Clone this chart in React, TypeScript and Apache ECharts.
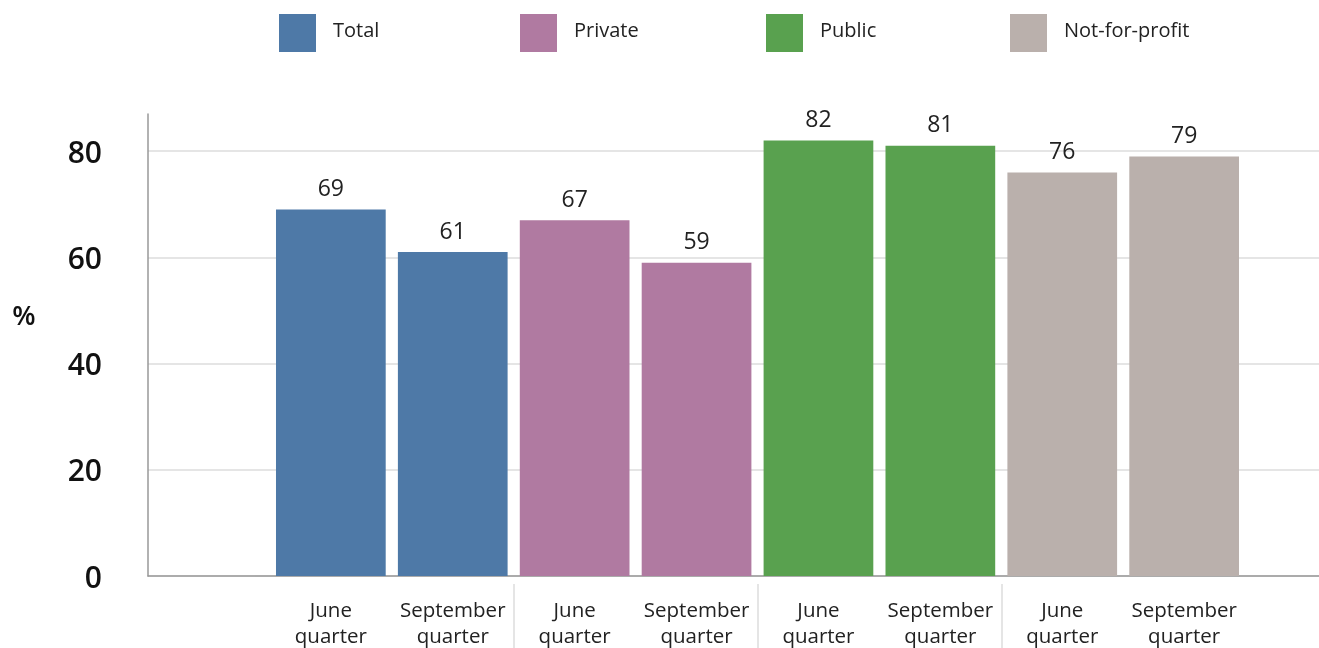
import React, { useEffect, useRef } from "react";
import * as echarts from "echarts";

const categories = [
  "",
  "June\nquarter",
  "September\nquarter",
  "June\nquarter",
  "September\nquarter",
  "June\nquarter",
  "September\nquarter",
  "June\nquarter",
  "September\nquarter",
  "",
];
const seriesNames = ["Total", "Private", "Public", "Not-for-profit"];
const totalValues = [69, 61];
const privateValues = [67, 59];
const publicValues = [82, 81];
const notForProfitValues = [76, 79];
const yTicks = [0, 20, 40, 60, 80];
const yMax = 87;

const colors = ["#4e79a7", "#b07aa1", "#59a14f", "#bab0ac"];
const legendLefts = [279, 520, 766, 1010];
const FONT = "'Open Sans', sans-serif";

function placeValues(values: number[], groupIndex: number) {
  const data: (number | string)[] = categories.map(() => "-");
  data[1 + groupIndex * 2] = values[0];
  data[2 + groupIndex * 2] = values[1];
  return data;
}

export default function App() {
  const ref = useRef<HTMLDivElement>(null);
  useEffect(() => {
    if (!ref.current) return;
    const chart = echarts.init(ref.current, null, { renderer: "svg" });
    const allValues = [totalValues, privateValues, publicValues, notForProfitValues];
    const option: any = {
      animation: false,
      textStyle: { fontFamily: FONT },
      grid: { left: 148, top: 114, width: 1219, height: 463, containLabel: false },
      legend: seriesNames.map((n, i) => ({
        data: [n],
        left: legendLefts[i],
        top: 14,
        padding: 0,
        itemWidth: 37,
        itemHeight: 38,
        icon: "rect",
        selectedMode: false,
        formatter: "{t|{name}}",
        textStyle: {
          fontSize: 20,
          color: "#222",
          fontFamily: FONT,
          rich: {
            t: {
              fontSize: 20,
              color: "#222",
              fontFamily: FONT,
              padding: [0, 0, 7, 12],
            },
          },
        },
      })),
      xAxis: [
        {
          type: "category",
          data: categories,
          boundaryGap: true,
          axisLine: { show: true, lineStyle: { color: "#999", width: 1.5 } },
          axisTick: { show: false },
          axisLabel: {
            interval: 0,
            fontSize: 20.5,
            lineHeight: 26,
            color: "#222",
            margin: 20,
            fontFamily: FONT,
          },
          splitLine: { show: false },
        },
        {
          type: "category",
          data: categories,
          position: "bottom",
          offset: 8,
          boundaryGap: true,
          axisLine: { show: false },
          axisLabel: { show: false },
          axisTick: {
            show: true,
            interval: (i: number) => i === 3 || i === 5 || i === 7,
            length: 70,
            lineStyle: { color: "#ddd", width: 1.5 },
          },
          splitLine: { show: false },
        },
      ],
      yAxis: {
        type: "value",
        min: 0,
        max: yMax,
        interval: 20,
        axisLine: { show: true, lineStyle: { color: "#999", width: 1.5 } },
        axisTick: { show: false },
        axisLabel: {
          formatter: (v: number) => (yTicks.includes(v) ? String(v) : ""),
          showMaxLabel: false,
          fontSize: 30,
          fontWeight: 600,
          color: "#111",
          margin: 46,
          fontFamily: FONT,
        },
        splitLine: {
          show: true,
          lineStyle: {
            color: ["#ddd", "#ddd", "#ddd", "#ddd", "#ddd", "rgba(0,0,0,0)"],
            width: 1.5,
          },
        },
      },
      graphic: [
        {
          type: "text",
          x: 24,
          y: 314,
          style: {
            text: "%",
            fontSize: 27,
            fontWeight: 600,
            fill: "#111",
            fontFamily: FONT,
            textAlign: "center",
            textVerticalAlign: "middle",
          },
        },
      ],
      series: seriesNames.map((n, i) => ({
        name: n,
        type: "bar",
        stack: "all",
        xAxisIndex: 0,
        barCategoryGap: "10%",
        itemStyle: { color: colors[i] },
        label: {
          show: true,
          position: "top",
          distance: 11,
          fontSize: 23,
          color: "#222",
          fontFamily: FONT,
        },
        data: placeValues(allValues[i], i),
      })),
    };
    chart.setOption(option);
    return () => chart.dispose();
  }, []);
  return (
    <div
      style={{
        position: "fixed",
        left: 0,
        top: 0,
        width: 1319,
        height: 648,
        overflow: "hidden",
      }}
    >
      <div ref={ref} style={{ width: 1367, height: 648 }} />
    </div>
  );
}
